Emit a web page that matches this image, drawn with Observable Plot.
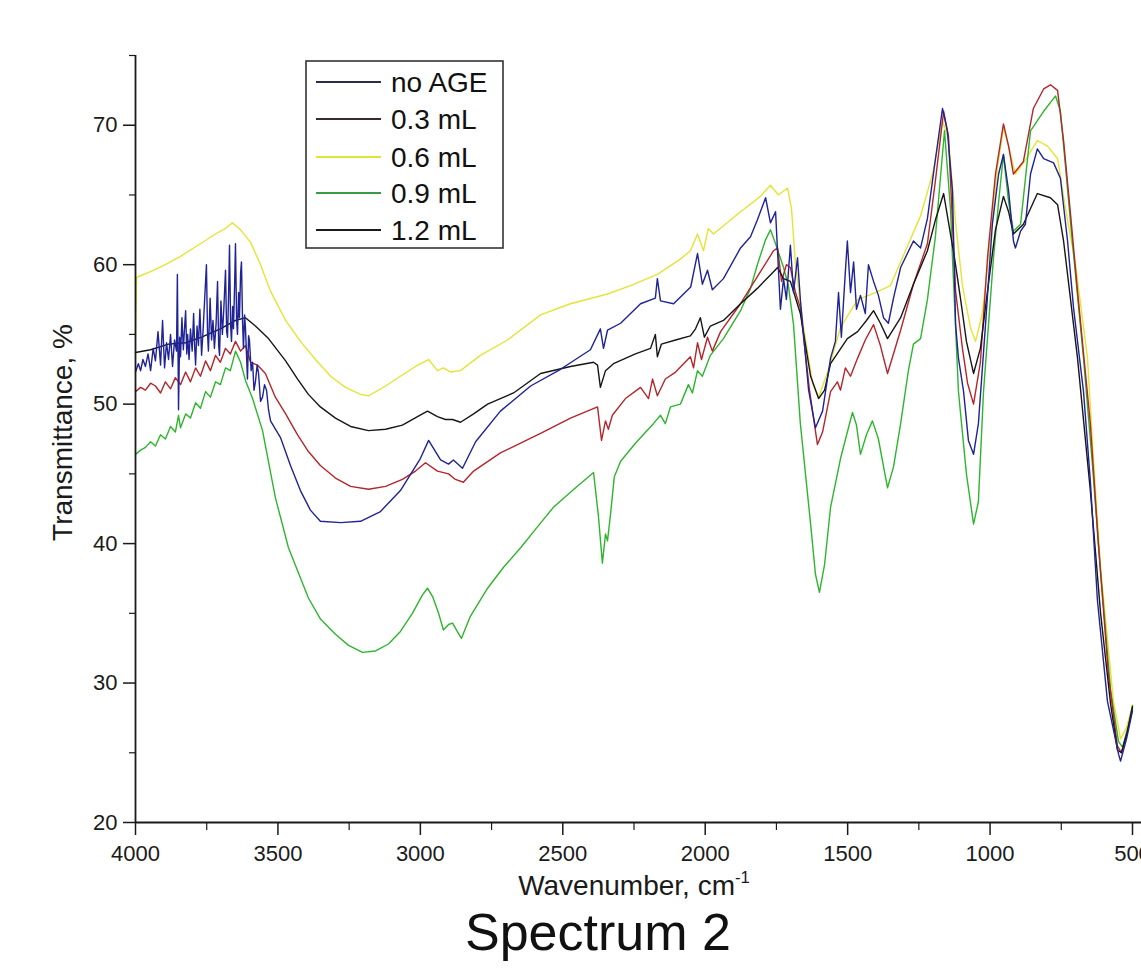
<!DOCTYPE html>
<html>
<head>
<meta charset="utf-8">
<script src="https://cdn.jsdelivr.net/npm/d3@7"></script>
<script src="https://cdn.jsdelivr.net/npm/@observablehq/plot@0.6"></script>
<style>
  html, body { margin: 0; padding: 0; background: #fff; }
  body { position: relative; width: 1141px; height: 976px; overflow: hidden; font-family: "Liberation Sans", Arial, sans-serif; }
  #chart { position: absolute; left: 0; top: 0; }
  #legend { position: absolute; left: 305px; top: 60px; }
  #title { position: absolute; left: 465px; top: 906px; font-size: 52px; line-height: 1; color: #111; white-space: nowrap; }
</style>
</head>
<body>
<div id="chart"></div>
<div id="legend"></div>
<div id="title">Spectrum 2</div>
<script>
// ---- data: [wavenumber (cm-1), transmittance (%)] ----
const seriesNames = ["no AGE", "0.3 mL", "0.6 mL", "0.9 mL", "1.2 mL"];
const xTicks = [4000, 3500, 3000, 2500, 2000, 1500, 1000, 500];
const xMinorTicks = [3750, 3250, 2750, 2250, 1750, 1250, 750];
const yTicks = [20, 30, 40, 50, 60, 70];
const yMinorTicks = [25, 35, 45, 55, 65, 75];

const noAGE = [
  [4000,52.3],[3990,52.9],[3982,52.4],[3974,53.2],[3965,52.7],[3956,53.6],[3947,52.4],[3938,54.0],
  [3930,53.1],[3921,55.2],[3912,52.8],[3905,56.0],[3898,52.6],[3891,54.4],[3884,53.2],[3877,55.0],
  [3870,52.7],[3863,54.6],[3856,53.8],[3853,59.3],[3849,49.6],[3845,54.8],[3842,53.4],[3837,56.2],
  [3832,53.9],[3828,55.4],[3824,56.7],[3820,53.6],[3817,55.0],[3812,53.2],[3807,55.4],[3801,53.8],
  [3796,56.5],[3792,54.0],[3789,52.8],[3784,55.6],[3779,54.2],[3774,56.8],[3768,53.5],[3763,55.2],
  [3758,57.2],[3751,60.0],[3747,55.0],[3744,53.8],[3738,57.6],[3733,54.6],[3728,56.0],[3723,54.0],
  [3717,55.8],[3712,58.8],[3708,54.2],[3705,53.5],[3700,57.4],[3695,55.0],[3690,56.8],[3684,59.6],
  [3680,55.2],[3677,54.8],[3673,58.0],[3670,61.4],[3666,55.6],[3663,54.5],[3659,57.0],[3656,55.4],
  [3652,58.6],[3649,61.5],[3645,56.0],[3642,55.0],[3638,58.0],[3635,56.2],[3631,59.4],[3628,60.2],
  [3624,55.8],[3621,54.0],[3617,56.4],[3614,55.5],[3610,53.4],[3607,51.8],[3603,54.9],[3600,54.6],
  [3594,52.4],[3589,53.0],[3584,51.0],[3579,51.6],[3573,52.8],[3568,52.2],[3561,50.2],[3554,50.5],
  [3547,51.4],[3540,51.0],[3533,49.6],[3526,48.8],[3491,47.6],[3456,45.6],[3421,43.8],[3386,42.4],
  [3351,41.6],[3280,41.5],[3210,41.6],[3140,42.3],[3070,43.8],[3000,46.1],[2971,47.4],[2929,46.0],
  [2901,45.7],[2884,46.0],[2852,45.4],[2806,47.3],[2719,49.5],[2613,51.3],[2508,52.5],[2403,53.9],
  [2368,55.4],[2357,54.0],[2343,55.3],[2297,55.8],[2227,57.2],[2175,57.6],[2168,59.0],[2157,57.4],
  [2111,57.2],[2051,58.4],[2027,60.8],[2010,58.6],[1992,59.6],[1975,58.2],[1936,59.0],[1876,61.2],
  [1841,62.0],[1817,63.2],[1788,64.8],[1771,63.0],[1753,63.8],[1736,56.8],[1725,59.0],[1715,57.5],
  [1701,61.4],[1690,58.0],[1676,60.5],[1666,57.5],[1637,51.0],[1613,48.3],[1588,49.5],[1560,53.3],
  [1543,54.5],[1532,58.0],[1522,54.8],[1508,59.5],[1501,61.7],[1490,58.0],[1479,60.2],[1469,56.8],
  [1455,57.8],[1438,56.5],[1427,60.0],[1409,58.8],[1392,57.8],[1374,56.2],[1357,55.8],[1339,57.6],
  [1314,59.8],[1269,61.7],[1244,61.2],[1220,63.3],[1199,66.5],[1167,71.2],[1150,69.6],[1132,65.3],
  [1121,55.7],[1111,53.3],[1093,50.9],[1076,47.4],[1058,46.4],[1041,48.6],[1016,55.7],[992,62.9],
  [970,66.5],[953,67.9],[935,65.3],[918,61.7],[911,61.2],[893,62.4],[876,62.9],[858,66.5],
  [834,68.3],[812,67.6],[777,67.3],[753,66.2],[728,61.7],[707,56.9],[672,50.9],[648,44.5],
  [623,35.9],[588,28.7],[549,24.9],[542,24.4],[521,26.0],[500,28.0]
];

const ml03 = [
  [4000,50.9],[3982,51.2],[3965,51.0],[3947,51.5],[3930,51.3],[3912,50.8],[3895,51.6],[3877,51.1],
  [3860,51.9],[3842,51.4],[3824,52.3],[3807,51.6],[3789,52.6],[3772,52.0],[3754,53.1],[3737,52.4],
  [3719,53.5],[3702,53.0],[3684,54.0],[3667,53.6],[3649,54.5],[3631,53.8],[3614,54.2],[3596,53.0],
  [3572,52.8],[3544,52.2],[3509,50.5],[3473,49.3],[3431,47.8],[3393,46.6],[3351,45.6],[3298,44.7],
  [3245,44.1],[3182,43.9],[3122,44.1],[3063,44.6],[3017,45.2],[2982,45.8],[2940,45.2],[2901,45.0],
  [2877,44.6],[2849,44.4],[2813,45.2],[2719,46.5],[2578,47.9],[2473,49.0],[2378,49.8],[2364,47.4],
  [2350,48.8],[2340,48.2],[2326,49.2],[2280,50.4],[2227,51.2],[2199,50.4],[2185,51.8],[2168,50.6],
  [2140,51.8],[2104,52.3],[2052,53.4],[2041,52.6],[2027,54.4],[2013,53.2],[1992,54.8],[1975,53.8],
  [1946,55.2],[1876,57.2],[1806,59.5],[1760,61.0],[1746,61.2],[1732,58.8],[1715,60.0],[1701,59.8],
  [1683,58.0],[1666,56.9],[1634,51.0],[1606,47.1],[1588,48.0],[1560,50.9],[1536,51.6],[1525,51.0],
  [1508,52.6],[1490,52.0],[1465,53.3],[1438,54.6],[1409,55.7],[1385,54.2],[1360,52.2],[1314,55.3],
  [1269,58.6],[1220,61.5],[1192,66.0],[1163,71.0],[1146,69.2],[1121,58.1],[1097,54.0],[1079,51.5],
  [1058,50.0],[1034,53.0],[1009,60.5],[981,66.5],[953,70.1],[935,68.5],[918,66.5],[883,67.4],
  [848,71.2],[812,72.6],[788,72.9],[763,72.5],[742,68.9],[717,63.5],[693,58.1],[648,48.6],
  [620,40.0],[584,30.5],[553,25.5],[539,25.0],[518,26.5],[500,28.2]
];

const ml06 = [
  [4000,55.0],[3996,59.1],[3947,59.5],[3895,60.0],[3842,60.6],[3772,61.5],[3719,62.2],[3684,62.6],
  [3660,63.0],[3631,62.5],[3596,61.6],[3561,60.0],[3526,58.1],[3473,56.0],[3421,54.5],[3368,53.2],
  [3315,52.0],[3263,51.2],[3210,50.7],[3182,50.6],[3122,51.3],[3070,52.0],[3017,52.7],[2971,53.2],
  [2940,52.4],[2919,52.6],[2894,52.3],[2859,52.4],[2789,53.5],[2694,54.6],[2578,56.4],[2473,57.2],
  [2343,57.9],[2262,58.5],[2168,59.3],[2087,60.4],[2052,61.0],[2027,62.2],[2006,61.0],[1989,62.6],
  [1971,62.2],[1876,63.8],[1806,64.9],[1771,65.7],[1743,65.0],[1711,65.5],[1697,64.0],[1683,60.0],
  [1655,55.5],[1623,51.5],[1602,50.5],[1567,52.5],[1525,55.5],[1465,57.5],[1402,58.0],[1350,58.5],
  [1297,61.0],[1244,63.5],[1202,66.5],[1167,70.3],[1146,69.0],[1121,63.0],[1097,58.5],[1069,55.5],
  [1051,54.5],[1027,56.5],[998,62.0],[974,67.0],[953,69.8],[935,68.5],[911,66.5],[876,67.5],
  [834,68.9],[798,68.5],[763,67.6],[735,64.0],[700,60.0],[658,53.3],[637,46.1],[612,38.3],
  [567,28.7],[542,26.0],[521,26.8],[500,28.4]
];

const ml09 = [
  [4000,46.4],[3982,46.7],[3965,46.9],[3947,47.3],[3930,47.0],[3912,47.8],[3895,47.5],[3877,48.4],
  [3860,48.0],[3849,49.2],[3842,48.3],[3824,49.3],[3807,49.0],[3789,50.1],[3772,49.7],[3754,50.9],
  [3737,50.5],[3719,51.6],[3702,51.4],[3684,52.6],[3667,52.4],[3649,53.8],[3631,53.0],[3614,51.7],
  [3589,50.4],[3554,48.1],[3509,43.3],[3463,39.7],[3393,36.1],[3351,34.6],[3298,33.5],[3252,32.7],
  [3203,32.2],[3157,32.3],[3112,32.8],[3070,33.7],[3028,35.0],[2993,36.3],[2975,36.8],[2957,36.2],
  [2936,35.0],[2919,33.8],[2901,34.2],[2887,34.3],[2873,33.8],[2856,33.2],[2824,34.8],[2764,36.8],
  [2708,38.3],[2648,39.7],[2589,41.2],[2533,42.6],[2455,44.0],[2392,45.1],[2375,42.0],[2361,38.6],
  [2350,40.7],[2343,40.2],[2333,42.0],[2319,44.8],[2297,45.9],[2245,47.2],[2182,48.6],[2157,49.2],
  [2140,48.6],[2122,49.8],[2087,50.0],[2059,51.4],[2045,50.8],[2027,52.4],[2010,52.0],[1982,53.5],
  [1936,54.7],[1876,56.7],[1841,58.3],[1817,60.0],[1788,61.8],[1771,62.5],[1753,61.5],[1725,59.8],
  [1708,58.5],[1690,55.7],[1666,48.6],[1630,41.4],[1613,37.8],[1599,36.5],[1581,38.5],[1560,42.6],
  [1525,46.1],[1501,48.0],[1483,49.4],[1469,48.5],[1455,46.4],[1434,47.8],[1413,48.8],[1392,47.5],
  [1360,44.0],[1339,45.5],[1314,48.6],[1286,52.5],[1269,54.3],[1244,54.7],[1220,57.5],[1192,62.0],
  [1160,69.6],[1139,64.0],[1132,60.5],[1111,50.9],[1083,45.0],[1058,41.4],[1041,43.0],[1023,50.9],
  [988,60.5],[970,64.5],[953,67.9],[935,64.5],[918,62.4],[893,62.9],[858,69.6],[812,71.0],
  [770,72.1],[753,71.0],[735,67.0],[717,62.9],[672,53.3],[640,45.5],[612,38.0],[577,29.5],
  [549,25.8],[535,25.4],[514,27.0],[500,28.4]
];

const ml12 = [
  [4000,53.7],[3947,53.9],[3884,54.3],[3824,54.4],[3768,54.8],[3702,55.4],[3649,56.0],[3614,56.2],
  [3579,55.6],[3533,54.7],[3473,53.1],[3431,51.8],[3393,50.7],[3351,49.8],[3298,49.0],[3245,48.4],
  [3182,48.1],[3122,48.2],[3063,48.5],[3010,49.1],[2975,49.5],[2940,49.1],[2912,48.9],[2887,48.9],
  [2859,48.7],[2813,49.3],[2764,50.0],[2673,50.8],[2578,52.2],[2473,52.7],[2392,53.0],[2378,52.8],
  [2368,51.2],[2350,52.4],[2322,52.9],[2245,53.6],[2192,54.0],[2175,55.0],[2168,53.4],[2154,54.3],
  [2104,54.6],[2052,54.9],[2034,55.4],[2017,56.2],[2003,54.8],[1982,55.6],[1936,56.0],[1876,57.2],
  [1817,58.3],[1760,59.5],[1746,59.8],[1725,59.0],[1701,58.8],[1666,56.5],[1630,52.0],[1602,50.4],
  [1581,51.0],[1560,52.9],[1501,54.7],[1465,55.2],[1434,56.0],[1409,56.7],[1385,55.8],[1360,54.7],
  [1314,56.2],[1269,58.6],[1220,61.0],[1192,63.2],[1163,65.1],[1125,60.5],[1104,57.6],[1083,54.5],
  [1058,52.2],[1034,54.0],[1009,58.1],[981,62.5],[953,64.9],[935,63.8],[918,62.2],[883,62.9],
  [834,65.1],[788,64.8],[763,64.3],[742,61.7],[693,53.3],[648,43.8],[612,35.0],[577,28.5],
  [553,25.2],[539,25.0],[518,26.5],[500,28.3]
];

// ---- styling ----
const colors = {
  "no AGE": "#1f2396",
  "0.3 mL": "#b3262a",
  "0.6 mL": "#e4e436",
  "0.9 mL": "#2eb52e",
  "1.2 mL": "#161616"
};
const legendLineColors = ["#2a2c48", "#3a2a2e", "#e4e436", "#3a9a4a", "#1a1a1a"];

const toRows = (arr, s) => arr.map(([w, t]) => ({w, t, s}));
const drawOrder = [["0.6 mL", ml06], ["0.9 mL", ml09], ["0.3 mL", ml03], ["1.2 mL", ml12], ["no AGE", noAGE]];

const chart = Plot.plot({
  width: 1141,
  height: 900,
  marginLeft: 135,
  marginRight: 9,
  marginTop: 55,
  marginBottom: 78,
  style: {fontFamily: "'Liberation Sans', Arial, sans-serif", fontSize: "22px", color: "#1a1a1a", background: "#fff", overflow: "visible"},
  x: {domain: [4000, 500], label: null},
  y: {domain: [20, 75], label: null},
  marks: [
    ...drawOrder.map(([name, arr]) =>
      Plot.line(toRows(arr, name), {x: "w", y: "t", stroke: colors[name], strokeWidth: 1.4, curve: "linear"})
    ),
    Plot.ruleX([4000], {y1: 20, y2: 75, stroke: "#1a1a1a", strokeWidth: 1.8}),
    Plot.ruleY([20], {x1: 4000, x2: 440, stroke: "#1a1a1a", strokeWidth: 1.8}),
    Plot.axisX({ticks: xTicks, tickSize: 13, tickPadding: 10, tickFormat: d => String(d), label: null, strokeWidth: 1.5}),
    Plot.axisX({ticks: xMinorTicks, tickSize: 8, tickFormat: () => "", label: null, strokeWidth: 1.2}),
    Plot.axisY({ticks: yTicks, tickSize: 12, tickPadding: 6, tickFormat: d => String(d), label: null, strokeWidth: 1.5}),
    Plot.axisY({ticks: yMinorTicks, tickSize: 6, tickFormat: () => "", label: null, strokeWidth: 1.2}),
    Plot.text(["Wavenumber, cm-1"], {frameAnchor: "bottom", dy: 64, fontSize: 28, lineAnchor: "middle", fill: "#1a1a1a"}),
    Plot.text(["Transmittance, %"], {frameAnchor: "left", fontSize: 28, lineAnchor: "middle", fill: "#1a1a1a"})
  ]
});
document.getElementById("chart").appendChild(chart);

// superscript on the x-axis title
d3.select(chart).selectAll("text").filter(function () { return this.textContent === "Wavenumber, cm-1"; })
  .each(function () {
    const t = d3.select(this);
    t.text("Wavenumber, cm");
    t.append("tspan").attr("dy", "-0.75em").attr("font-size", "0.6em").text("-1");
  });

// rotate and place the y-axis title
d3.select(chart).selectAll("text").filter(function () { return this.textContent === "Transmittance, %"; })
  .attr("x", null).attr("y", null).attr("dx", null)
  .attr("transform", "translate(62,432) rotate(-90)")
  .attr("dy", "0.35em")
  .attr("text-anchor", "middle");

// ---- legend (overlay box) ----
const lg = d3.select("#legend").append("svg").attr("width", 200).attr("height", 190)
  .style("font-family", "'Liberation Sans', Arial, sans-serif");
lg.append("rect").attr("x", 1).attr("y", 1).attr("width", 197).attr("height", 187)
  .attr("fill", "#fff").attr("stroke", "#333").attr("stroke-width", 1.6);
const rowY = [22, 59, 97, 133, 170];
seriesNames.forEach((name, i) => {
  lg.append("line").attr("x1", 11).attr("x2", 76).attr("y1", rowY[i]).attr("y2", rowY[i])
    .attr("stroke", legendLineColors[i]).attr("stroke-width", 2);
  lg.append("text").attr("x", 86).attr("y", rowY[i]).attr("dy", "0.36em")
    .attr("font-size", 28).attr("fill", "#111").text(name);
});
</script>
</body>
</html>
